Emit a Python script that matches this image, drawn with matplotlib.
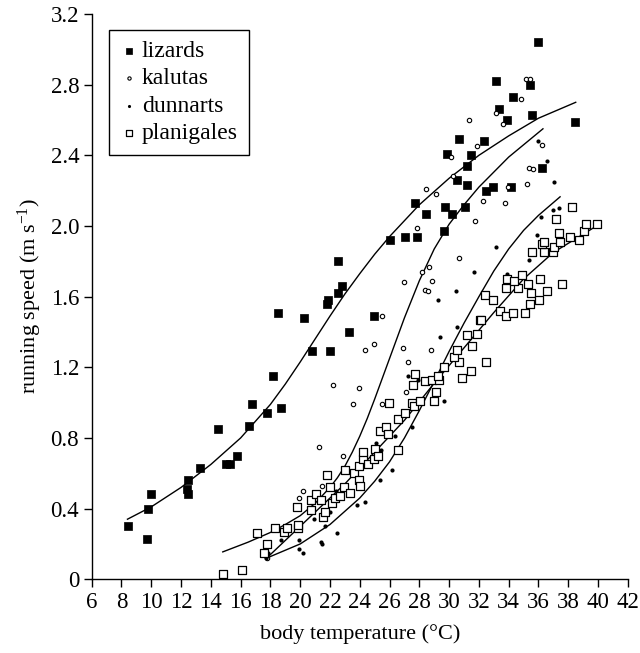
import matplotlib
matplotlib.use('Agg')
import matplotlib.pyplot as plt
import numpy as np
from matplotlib.ticker import FixedLocator, FuncFormatter

# ==========================================
# 全局配置
# ==========================================
plt.rcParams['font.family'] = ['Liberation Serif', 'DejaVu Serif']
plt.rcParams['mathtext.fontset'] = 'custom'
plt.rcParams['mathtext.rm'] = 'Liberation Serif'
plt.rcParams['mathtext.it'] = 'Liberation Serif:italic'
plt.rcParams['font.size'] = 16

# ---- data: body temperature (°C), running speed (m/s) ----
lizard_t = [8.41, 9.69, 9.80, 9.98, 12.38, 12.49, 12.49, 13.27, 14.50, 15.00,
            15.28, 15.78, 16.59, 16.79, 17.80, 18.69, 18.20, 18.53, 20.28, 20.82,
            22.00, 21.78, 21.89, 22.56, 22.79, 22.56, 23.28, 24.96, 26.05, 27.06,
            27.87, 27.71, 28.47, 29.70, 30.20, 31.07, 29.68, 30.55, 31.21, 32.46,
            32.95, 34.16, 36.26, 29.88, 31.47, 31.18, 30.67, 32.37, 33.17, 35.46,
            34.27, 33.38, 35.59, 33.87, 38.46, 35.97]
lizard_v = [0.30, 0.23, 0.40, 0.48, 0.51, 0.48, 0.56, 0.63, 0.85, 0.65,
            0.65, 0.70, 0.87, 0.99, 0.94, 0.97, 1.15, 1.51, 1.48, 1.29,
            1.29, 1.56, 1.58, 1.62, 1.66, 1.80, 1.40, 1.49, 1.92, 1.94,
            1.94, 2.13, 2.07, 2.11, 2.07, 2.11, 1.97, 2.26, 2.23, 2.20,
            2.22, 2.22, 2.33, 2.41, 2.40, 2.34, 2.49, 2.48, 2.82, 2.80,
            2.73, 2.66, 2.63, 2.60, 2.59, 3.04]

kaluta_t = [17.75, 19.94, 20.17, 21.49, 21.27, 22.86, 22.19, 23.95, 23.55, 25.48,
            24.35, 24.98, 25.48, 26.89, 28.77, 27.26, 27.09, 26.98, 28.16, 28.65,
            28.85, 28.37, 28.57, 27.87, 30.65, 31.76, 32.26, 33.76, 33.96, 35.25,
            35.37, 35.64, 36.26, 28.47, 29.14, 30.26, 30.13, 31.86, 31.36, 33.15,
            33.64, 34.85, 35.19, 35.41]
kaluta_v = [0.12, 0.46, 0.50, 0.53, 0.75, 0.70, 1.10, 1.08, 0.99, 0.99,
            1.30, 1.33, 1.49, 1.31, 1.30, 1.23, 1.06, 1.68, 1.74, 1.77,
            1.69, 1.64, 1.63, 1.99, 1.82, 2.03, 2.14, 2.13, 2.22, 2.24,
            2.33, 2.32, 2.46, 2.21, 2.18, 2.28, 2.39, 2.45, 2.60, 2.64,
            2.58, 2.72, 2.83, 2.83]

dunnart_t = [17.68, 17.86, 18.71, 19.90, 19.90, 20.17, 20.95, 21.38, 21.49, 21.67,
             22.00, 22.39, 22.47, 23.30, 23.80, 24.35, 25.07, 25.36, 25.41, 26.19,
             25.76, 26.39, 27.49, 27.26, 27.93, 29.68, 29.37, 30.55, 29.26, 30.47,
             31.68, 33.13, 33.87, 35.35, 35.93, 36.15, 37.00, 37.36, 37.05, 36.56,
             35.95]
dunnart_v = [0.12, 0.15, 0.22, 0.22, 0.17, 0.15, 0.34, 0.21, 0.20, 0.30,
             0.38, 0.50, 0.26, 0.61, 0.42, 0.44, 0.77, 0.56, 0.73, 0.62,
             0.81, 0.81, 0.86, 1.15, 1.13, 1.01, 1.37, 1.43, 1.58, 1.63,
             1.74, 1.88, 1.73, 1.81, 1.95, 2.05, 2.09, 2.10, 2.25, 2.37,
             2.48]

plani_t = [14.80, 16.07, 17.12, 17.79, 17.59, 18.31, 18.94, 19.10, 19.83, 19.87,
           19.81, 20.71, 20.73, 21.04, 21.38, 21.51, 21.65, 22.12, 21.78, 22.00,
           22.34, 22.68, 22.97, 22.99, 23.35, 23.62, 23.93, 24.00, 23.97, 24.20,
           24.24, 24.58, 24.98, 25.03, 25.25, 25.36, 25.74, 25.92, 25.97, 26.59,
           26.59, 27.04, 27.53, 27.65, 28.05, 28.99, 29.10, 27.60, 27.71, 28.40,
           28.83, 29.35, 29.28, 29.64, 30.85, 31.45, 32.46, 30.65, 30.33, 30.53,
           31.52, 31.20, 31.86, 32.08, 32.17, 32.39, 32.95, 33.40, 33.80, 34.27,
           35.10, 33.82, 34.65, 33.87, 34.36, 34.90, 35.28, 35.48, 35.46, 36.06,
           36.60, 36.09, 37.56, 35.55, 36.36, 36.98, 37.03, 36.24, 36.40, 37.45,
           37.41, 38.12, 38.73, 39.06, 39.22, 39.92, 37.16, 38.26]
plani_v = [0.03, 0.05, 0.26, 0.20, 0.15, 0.29, 0.27, 0.29, 0.29, 0.31,
           0.41, 0.39, 0.45, 0.48, 0.45, 0.35, 0.38, 0.43, 0.59, 0.52,
           0.46, 0.47, 0.52, 0.62, 0.49, 0.60, 0.56, 0.53, 0.64, 0.68,
           0.72, 0.65, 0.68, 0.74, 0.70, 0.84, 0.86, 0.82, 1.00, 0.91,
           0.73, 0.94, 1.00, 0.98, 1.01, 1.01, 1.06, 1.10, 1.16, 1.12,
           1.13, 1.13, 1.15, 1.20, 1.14, 1.18, 1.23, 1.23, 1.26, 1.30,
           1.32, 1.38, 1.39, 1.47, 1.47, 1.61, 1.58, 1.52, 1.49, 1.51,
           1.51, 1.65, 1.65, 1.70, 1.69, 1.72, 1.67, 1.62, 1.56, 1.58,
           1.63, 1.70, 1.67, 1.85, 1.85, 1.85, 1.88, 1.90, 1.91, 1.91,
           1.96, 1.94, 1.92, 1.97, 2.01, 2.01, 2.04, 2.11]

# ---- fitted curves ----
lizard_fit_t = [8.4, 10, 12, 14, 16, 18, 19, 20, 21, 22, 23, 24, 25, 26, 28, 30, 32, 34, 36, 38.5]
lizard_fit_v = [0.34, 0.41, 0.52, 0.65, 0.80, 0.99, 1.105, 1.23, 1.36, 1.49, 1.615, 1.73, 1.84, 1.94, 2.12, 2.27, 2.40, 2.51, 2.61, 2.70]

kaluta_fit_t = [14.8, 16.5, 18, 19, 20, 21, 22, 22.5, 23, 23.5, 24, 24.5, 25, 26, 27, 28, 29, 30, 31, 32, 34, 36.3]
kaluta_fit_v = [0.155, 0.21, 0.265, 0.31, 0.36, 0.43, 0.52, 0.575, 0.64, 0.72, 0.81, 0.91, 1.02, 1.25, 1.48, 1.69, 1.87, 2.01, 2.12, 2.22, 2.39, 2.55]

dunnart_fit_t = [17.75, 20, 22, 24, 25, 26, 27, 28, 29, 30, 31, 32, 33, 34, 35, 36, 37.45]
dunnart_fit_v = [0.12, 0.20, 0.31, 0.46, 0.555, 0.665, 0.80, 0.955, 1.12, 1.29, 1.45, 1.60, 1.745, 1.87, 1.975, 2.06, 2.165]

plani_fit_t = [17.75, 19, 21, 23, 25, 27, 29, 31, 33, 35, 37, 39.9]
plani_fit_v = [0.12, 0.22, 0.38, 0.54, 0.72, 0.90, 1.11, 1.31, 1.51, 1.70, 1.85, 2.0]

x_ticks = list(range(6, 43, 2))
y_ticks = [0, 0.4, 0.8, 1.2, 1.6, 2.0, 2.4, 2.8, 3.2]


def plot_running_speed():
    fig = plt.figure(figsize=(6.4, 6.53), dpi=100)
    ax = fig.add_axes([0.1433, 0.1129, 0.8377, 0.8657])

    ax.scatter(lizard_t, lizard_v, marker='s', s=36, c='black', edgecolors='black',
               linewidths=0.5, label='lizards', zorder=3)
    ax.scatter(kaluta_t, kaluta_v, marker='o', s=10, facecolors='white', edgecolors='black',
               linewidths=0.8, label='kalutas', zorder=3)
    ax.scatter(dunnart_t, dunnart_v, marker='o', s=9, c='black', edgecolors='black',
               linewidths=0, label='dunnarts', zorder=3)
    ax.scatter(plani_t, plani_v, marker='s', s=30, facecolors='white', edgecolors='black',
               linewidths=0.9, label='planigales', zorder=3)

    # 拟合曲线
    for t, v in [(lizard_fit_t, lizard_fit_v), (kaluta_fit_t, kaluta_fit_v),
                 (dunnart_fit_t, dunnart_fit_v), (plani_fit_t, plani_fit_v)]:
        ax.plot(t, v, color='black', lw=1.0, zorder=2)

    ax.set_xlim(6, 42)
    ax.set_ylim(0, 3.2)
    ax.xaxis.set_major_locator(FixedLocator(x_ticks))
    ax.yaxis.set_major_locator(FixedLocator(y_ticks))
    ax.yaxis.set_major_formatter(FuncFormatter(lambda v, p: '0' if v == 0 else f'{v:.1f}'))
    ax.tick_params(direction='out', length=6, width=1, labelsize=16.5, pad=3)

    for side in ['top', 'right']:
        ax.spines[side].set_visible(False)
    for side in ['left', 'bottom']:
        ax.spines[side].set_linewidth(1)

    ax.set_xlabel('body temperature (°C)', fontsize=16, labelpad=8)
    ax.set_ylabel('running speed (m s$^{-1}$)', fontsize=16, labelpad=5)

    leg = ax.legend(loc='upper left', bbox_to_anchor=(0.032, 0.972), borderaxespad=0,
                    fancybox=False, framealpha=1, edgecolor='black', fontsize=17,
                    markerscale=0.75, handlelength=0.8, handletextpad=0.15,
                    labelspacing=0.25, borderpad=0.45)
    leg.get_frame().set_linewidth(1)

    fig.savefig('out.png', dpi=100)


if __name__ == '__main__':
    plot_running_speed()
